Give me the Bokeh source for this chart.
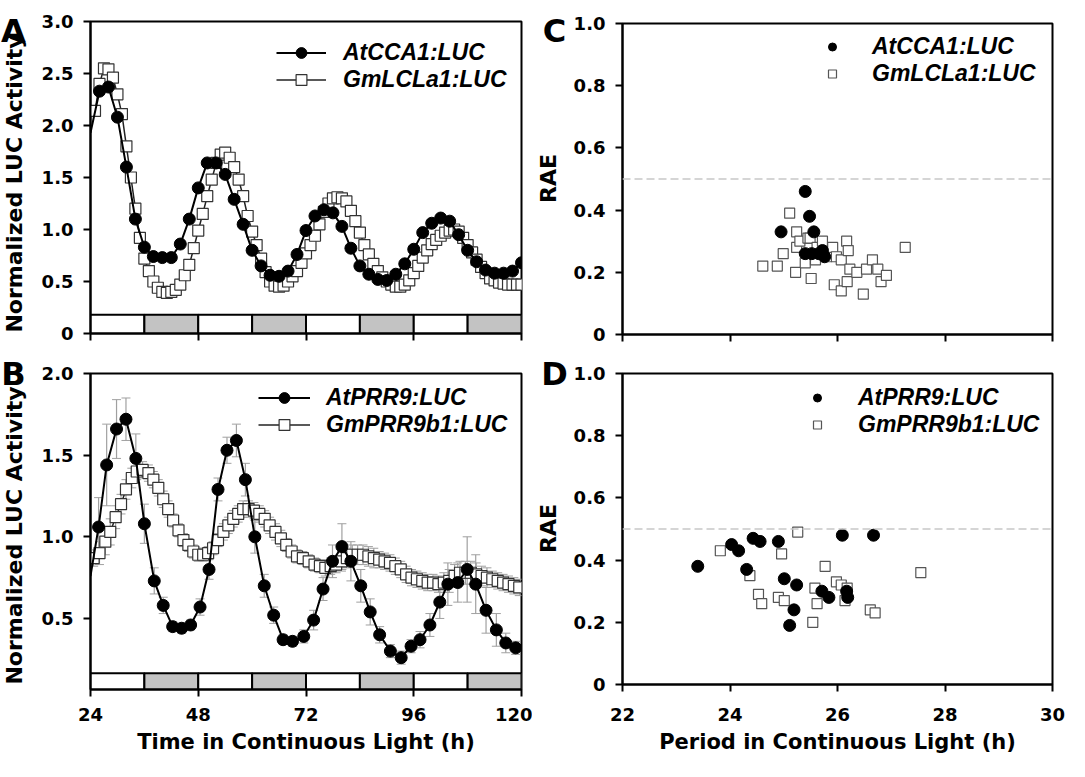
import math
from bokeh.plotting import figure
from bokeh.models import (Range1d, FixedTicker, Legend, LegendItem, Whisker,
                          ColumnDataSource, Span, Label, CustomJSTickFormatter)
from bokeh.layouts import row, column
from bokeh.embed import file_html
from bokeh.resources import INLINE

FONT = "DejaVu Sans"
LEG_FONT = "Liberation Sans"

# ---------------- data ----------------
time_ticks = [24, 48, 72, 96, 120]
period_ticks = [22, 24, 26, 28, 30]
lucA_ticks = [0, 0.5, 1.0, 1.5, 2.0, 2.5, 3.0]
lucB_ticks = [0.5, 1.0, 1.5, 2.0]
rae_ticks = [0, 0.2, 0.4, 0.6, 0.8, 1.0]
rae_cutoff = 0.5

strip_left = [24, 36, 48, 60, 72, 84, 96, 108]
strip_right = [36, 48, 60, 72, 84, 96, 108, 120]
strip_fill = ["white", "#c3c3c3", "white", "#c3c3c3", "white", "#c3c3c3", "white", "#c3c3c3"]

# Panel A
cca1_t = [24, 26, 28, 30, 32, 34, 36, 38, 40, 42, 44, 46, 48, 50, 52, 54, 56, 58, 60,
          62, 64, 66, 68, 70, 72, 74, 76, 78, 80, 82, 84, 86, 88, 90, 92, 94, 96, 98,
          100, 102, 104, 106, 108, 110, 112, 114, 116, 118, 120]
cca1_v = [1.93, 2.33, 2.37, 2.08, 1.60, 1.10, 0.83, 0.74, 0.73, 0.73, 0.86, 1.10, 1.40,
          1.64, 1.64, 1.53, 1.29, 1.05, 0.80, 0.65, 0.56, 0.55, 0.60, 0.76, 0.99, 1.13,
          1.19, 1.16, 1.03, 0.82, 0.65, 0.57, 0.52, 0.51, 0.57, 0.67, 0.81, 0.97, 1.06,
          1.11, 1.08, 0.95, 0.80, 0.69, 0.61, 0.58, 0.58, 0.60, 0.68]
lcla1_t = list(range(25, 121))
lcla1_v = [2.14, 2.40, 2.55, 2.54, 2.46, 2.30, 2.11, 1.80, 1.50, 1.20,
           0.92, 0.72, 0.60, 0.50, 0.44, 0.40, 0.39, 0.40, 0.42, 0.47,
           0.56, 0.66, 0.82, 0.99, 1.15, 1.32, 1.48, 1.64, 1.72, 1.74,
           1.69, 1.60, 1.48, 1.32, 1.13, 0.98, 0.85, 0.72, 0.59, 0.50,
           0.46, 0.45, 0.46, 0.50, 0.55, 0.60, 0.68, 0.77, 0.85, 0.94,
           1.05, 1.17, 1.25, 1.30, 1.31, 1.30, 1.27, 1.18, 1.08, 0.97,
           0.85, 0.76, 0.67, 0.60, 0.54, 0.50, 0.47, 0.45, 0.45, 0.47,
           0.51, 0.58, 0.65, 0.73, 0.80, 0.86, 0.90, 0.94, 0.97, 0.99,
           1.00, 0.98, 0.92, 0.85, 0.78, 0.71, 0.64, 0.58, 0.53, 0.51,
           0.49, 0.48, 0.47, 0.47, 0.47, 0.47]

# Panel B
prr9_t = [24.0, 25.8, 27.6, 29.8, 31.9, 34.1, 36.0, 38.2, 40.2, 42.3, 44.3, 46.3, 48.4,
          50.4, 52.4, 54.4, 56.5, 58.5, 60.6, 62.7, 64.8, 66.9, 69.0, 71.5, 73.7, 75.8,
          77.9, 80.0, 82.0, 84.2, 86.3, 88.4, 90.8, 93.2, 95.4, 97.4, 99.6, 101.8,
          103.6, 105.8, 107.9, 109.8, 112.1, 114.4, 116.5, 118.7]
prr9_v = [0.76, 1.06, 1.44, 1.66, 1.72, 1.48, 1.08, 0.73, 0.58, 0.45, 0.44, 0.46, 0.57,
          0.80, 1.29, 1.53, 1.59, 1.35, 1.00, 0.70, 0.52, 0.37, 0.36, 0.39, 0.49, 0.68,
          0.85, 0.94, 0.85, 0.70, 0.54, 0.40, 0.30, 0.26, 0.33, 0.37, 0.46, 0.60, 0.71,
          0.72, 0.80, 0.71, 0.55, 0.43, 0.35, 0.32]
prr9_err = [0, 0.18, 0.25, 0.18, 0.13, 0.15, 0.12, 0.08, 0.05, 0.03, 0.03, 0.03, 0.05,
            0.06, 0.07, 0.08, 0.10, 0.10, 0.10, 0.07, 0.05, 0.03, 0.03, 0.04, 0.06, 0.07,
            0.10, 0.14, 0.12, 0.10, 0.08, 0.05, 0.04, 0.04, 0.04, 0.05, 0.07, 0.10, 0.13,
            0.12, 0.20, 0.18, 0.14, 0.10, 0.06, 0.04]
gm9_t = [24.7, 26.0, 27.3, 28.4, 29.6, 30.8, 31.9, 33.2, 34.3, 35.6,
         36.9, 38.0, 39.1, 40.2, 41.3, 42.4, 43.6, 44.7, 45.8, 46.9,
         48.0, 49.1, 50.2, 51.3, 52.4, 53.6, 54.7, 55.8, 56.9, 58.0,
         59.2, 60.4, 61.6, 62.8, 63.9, 65.2, 66.4, 67.6, 68.8, 70.0,
         71.3, 72.6, 73.9, 75.1, 76.3, 77.5, 78.7, 79.9, 81.1, 82.3,
         83.5, 84.7, 85.9, 87.1, 88.3, 89.5, 90.7, 91.9, 93.1, 94.3,
         95.5, 96.7, 97.9, 99.1, 100.3, 101.5, 102.7, 103.9, 105.1, 106.3,
         107.5, 108.7, 109.9, 111.1, 112.3, 113.5, 114.7, 115.9, 117.1, 118.3,
         119.5]
gm9_v = [0.87, 0.90, 0.97, 1.03, 1.12, 1.20, 1.29, 1.36, 1.40, 1.41,
         1.39, 1.35, 1.30, 1.23, 1.17, 1.10, 1.04, 0.98, 0.95, 0.91,
         0.89, 0.89, 0.90, 0.93, 0.98, 1.03, 1.07, 1.11, 1.14, 1.17,
         1.17, 1.16, 1.14, 1.11, 1.07, 1.03, 0.99, 0.95, 0.91, 0.88,
         0.87, 0.85, 0.83, 0.82, 0.81, 0.82, 0.83, 0.85, 0.87, 0.89,
         0.89, 0.89, 0.88, 0.87, 0.86, 0.85, 0.84, 0.82, 0.80, 0.77,
         0.75, 0.74, 0.73, 0.72, 0.72, 0.71, 0.72, 0.73, 0.76, 0.78,
         0.78, 0.78, 0.77, 0.76, 0.75, 0.74, 0.73, 0.72, 0.71, 0.70,
         0.69]
gm9_err = [0.05, 0.07, 0.08, 0.08, 0.07, 0.06, 0.06, 0.06, 0.05, 0.05,
           0.05, 0.05, 0.05, 0.05, 0.05, 0.04, 0.04, 0.04, 0.04, 0.04,
           0.04, 0.04, 0.04, 0.04, 0.04, 0.05, 0.05, 0.05, 0.05, 0.05,
           0.05, 0.05, 0.05, 0.05, 0.05, 0.05, 0.05, 0.04, 0.04, 0.04,
           0.04, 0.04, 0.04, 0.04, 0.05, 0.05, 0.05, 0.06, 0.06, 0.06,
           0.06, 0.06, 0.06, 0.06, 0.05, 0.05, 0.05, 0.05, 0.05, 0.05,
           0.05, 0.05, 0.05, 0.05, 0.05, 0.05, 0.06, 0.07, 0.07, 0.07,
           0.07, 0.07, 0.07, 0.06, 0.06, 0.05, 0.05, 0.05, 0.05, 0.05,
           0.05]

# Panel C
c_cca1_period = [24.95, 25.40, 25.48, 25.56, 25.40, 25.52, 25.65, 25.72, 25.76]
c_cca1_rae = [0.33, 0.46, 0.38, 0.33, 0.26, 0.26, 0.26, 0.27, 0.25]
c_lcla1_period = [24.61, 24.88, 24.99, 25.11, 25.22, 25.24, 25.24, 25.30, 25.40, 25.45,
                  25.49, 25.51, 25.59, 25.62, 25.72, 25.80, 25.91, 25.94, 25.98, 26.07,
                  26.07, 26.17, 26.18, 26.20, 26.23, 26.36, 26.48, 26.54, 26.65, 26.75,
                  26.81, 26.91, 27.26]
c_lcla1_rae = [0.22, 0.22, 0.26, 0.39, 0.20, 0.33, 0.28, 0.30, 0.23, 0.31,
               0.31, 0.18, 0.24, 0.28, 0.30, 0.25, 0.28, 0.16, 0.25, 0.24,
               0.14, 0.30, 0.17, 0.27, 0.21, 0.20, 0.13, 0.21, 0.24, 0.21,
               0.17, 0.19, 0.28]

# Panel D
d_prr9_period = [23.40, 24.03, 24.16, 24.31, 24.43, 24.56, 24.90, 25.01, 25.24, 25.19,
                 25.11, 25.71, 25.84, 26.09, 26.17, 26.19, 26.67]
d_prr9_rae = [0.38, 0.45, 0.43, 0.37, 0.47, 0.46, 0.46, 0.34, 0.32, 0.24,
              0.19, 0.30, 0.28, 0.48, 0.30, 0.28, 0.48]
d_gm9_period = [23.82, 24.96, 24.37, 24.53, 24.59, 24.90, 25.01, 25.26, 25.58, 25.62,
                25.54, 25.77, 25.98, 26.07, 26.18, 26.14, 26.61, 26.70, 27.55]
d_gm9_rae = [0.43, 0.42, 0.35, 0.29, 0.26, 0.28, 0.27, 0.49, 0.31, 0.26,
             0.20, 0.38, 0.33, 0.32, 0.31, 0.27, 0.24, 0.23, 0.36]

# texts
letters = ["A", "B", "C", "D"]
luc_title = "Normalized LUC Activity"
rae_title = "RAE"


# ---------------- helpers ----------------
def base_fig(w, h, xr, yr, bl, br, bt, bb, show_x, lab_standoff=10, title_standoff=6):
    p = figure(width=w, height=h, x_range=Range1d(*xr), y_range=Range1d(*yr),
               output_backend="svg", toolbar_location=None,
               min_border_left=bl, min_border_right=br,
               min_border_top=bt, min_border_bottom=bb)
    p.xgrid.visible = False
    p.ygrid.visible = False
    p.outline_line_color = "black"
    p.outline_line_width = 2
    p.outline_line_alpha = 1
    p.background_fill_color = "white"
    p.border_fill_color = "white"
    for ax in (p.xaxis[0], p.yaxis[0]):
        ax.axis_line_width = 2
        ax.axis_line_color = "black"
        ax.major_tick_line_width = 2
        ax.major_tick_line_color = "black"
        ax.major_tick_out = 7
        ax.major_tick_in = 0
        ax.minor_tick_out = 0
        ax.minor_tick_in = 0
        ax.major_label_text_font = FONT
        ax.major_label_text_font_style = "bold"
        ax.major_label_text_font_size = "18px"
        ax.major_label_text_color = "black"
        ax.axis_label_text_font = FONT
        ax.axis_label_text_font_style = "bold"
        ax.axis_label_text_font_size = "21px"
        ax.axis_label_text_color = "black"
    p.yaxis[0].major_label_standoff = 10
    p.yaxis[0].formatter = CustomJSTickFormatter(
        code="return tick == 0 ? '0' : tick.toFixed(1);")
    if show_x:
        p.xaxis[0].major_label_standoff = lab_standoff
        p.xaxis[0].axis_label_standoff = title_standoff
        p.xaxis[0].formatter = CustomJSTickFormatter(code="return tick.toFixed(0);")
    else:
        p.xaxis[0].major_label_standoff = 0
        p.xaxis[0].major_label_text_font_size = "1px"
        p.xaxis[0].formatter = CustomJSTickFormatter(code="return '';")
    return p


def add_strip(p, bottom, top):
    p.quad(left=strip_left, right=strip_right,
           bottom=[bottom] * len(strip_left), top=[top] * len(strip_left),
           fill_color=strip_fill, line_color="black", line_width=2)


def add_whiskers(p, xs, ys, errs):
    src = ColumnDataSource(dict(x=xs,
                                lower=[y - e for y, e in zip(ys, errs)],
                                upper=[y + e for y, e in zip(ys, errs)]))
    w = Whisker(source=src, base="x", lower="lower", upper="upper",
                line_color="#a0a0a0", line_width=1.2)
    w.upper_head.line_color = "#a0a0a0"
    w.lower_head.line_color = "#a0a0a0"
    w.upper_head.size = 9
    w.lower_head.size = 9
    p.add_layout(w)


def side_fig(w, h):
    # narrow strip holding the panel letters and the rotated axis titles
    f = figure(width=w, height=h, x_range=Range1d(0, w), y_range=Range1d(0, h),
               output_backend="svg", toolbar_location=None, title=None,
               x_axis_location=None, y_axis_location=None,
               min_border_left=0, min_border_right=0, min_border_top=0, min_border_bottom=0)
    f.grid.visible = False
    f.outline_line_color = None
    f.background_fill_color = "white"
    f.border_fill_color = "white"
    return f


def add_letter(f, text, x, y):
    f.add_layout(Label(x=x, y=y, text=text, text_font=FONT, text_font_style="bold",
                       text_font_size="32px", text_align="center",
                       text_baseline="alphabetic", text_color="black"))


def add_vtitle(f, text, x, y):
    f.add_layout(Label(x=x, y=y, text=text, angle=math.pi / 2, text_font=FONT,
                       text_font_style="bold", text_font_size="22px",
                       text_align="center", text_baseline="middle", text_color="black"))


def make_legend(items, x, y, gw, standoff):
    return Legend(items=items, location=(x, y), border_line_color=None,
                  background_fill_alpha=0, padding=0, margin=0, spacing=0,
                  glyph_width=gw, glyph_height=27, label_height=27,
                  label_standoff=standoff, label_text_font=LEG_FONT,
                  label_text_font_style="bold italic", label_text_font_size="23px",
                  label_text_color="black")


# page geometry (pixels inside the 8px body margin)
SIDE_L, MAIN_L, SIDE_R, MAIN_R = 38, 494, 37, 500
TOP_H, BOT_H = 349, 412
FULL_H = TOP_H + BOT_H

# ---------------- Panel A ----------------
pA = base_fig(MAIN_L, TOP_H, (24, 120), (0, 3.0), 51, 11, 21, 16, False)
pA.xaxis[0].ticker = FixedTicker(ticks=time_ticks)
pA.yaxis[0].ticker = FixedTicker(ticks=lucA_ticks)
add_strip(pA, 0, 0.18)
lA2 = pA.line(lcla1_t, lcla1_v, line_color="#222222", line_width=1.5)
sA2 = pA.scatter(lcla1_t, lcla1_v, marker="square", size=11, fill_color="white",
                 line_color="#333333", line_width=1.2)
lA1 = pA.line(cca1_t, cca1_v, line_color="black", line_width=2)
sA1 = pA.scatter(cca1_t[1:], cca1_v[1:], marker="circle", size=12, fill_color="black",
                 line_color="black")
pA.add_layout(make_legend([LegendItem(label="AtCCA1:LUC", renderers=[lA1, sA1]),
                           LegendItem(label="GmLCLa1:LUC", renderers=[lA2, sA2])],
                          186, 240, 50, 17))

# ---------------- Panel B ----------------
pB = base_fig(MAIN_L, BOT_H, (24, 120), (0.065, 2.0), 51, 11, 24, 72, True, 11, 6)
pB.xaxis[0].ticker = FixedTicker(ticks=time_ticks)
pB.xaxis[0].axis_label = "Time in Continuous Light (h)"
pB.yaxis[0].ticker = FixedTicker(ticks=lucB_ticks)
add_strip(pB, 0.065, 0.165)
add_whiskers(pB, gm9_t, gm9_v, gm9_err)
add_whiskers(pB, prr9_t[1:], prr9_v[1:], prr9_err[1:])
lB2 = pB.line(gm9_t, gm9_v, line_color="#222222", line_width=1.5)
sB2 = pB.scatter(gm9_t, gm9_v, marker="square", size=11, fill_color="white",
                 line_color="#333333", line_width=1.2)
lB1 = pB.line(prr9_t, prr9_v, line_color="black", line_width=2)
sB1 = pB.scatter(prr9_t[1:], prr9_v[1:], marker="circle", size=12, fill_color="black",
                 line_color="black")
pB.add_layout(make_legend([LegendItem(label="AtPRR9:LUC", renderers=[lB1, sB1]),
                           LegendItem(label="GmPRR9b1:LUC", renderers=[lB2, sB2])],
                          168, 251, 52, 16))

# ---------------- Panel C ----------------
pC = base_fig(MAIN_R, TOP_H, (22, 30), (0, 1.0), 53, 17, 23, 15, False)
pC.xaxis[0].ticker = FixedTicker(ticks=period_ticks)
pC.yaxis[0].ticker = FixedTicker(ticks=rae_ticks)
pC.add_layout(Span(location=rae_cutoff, dimension="width", line_color="#c8c8c8",
                   line_width=1.5, line_dash="8 4"))
sC2 = pC.scatter(c_lcla1_period, c_lcla1_rae, marker="square", size=10,
                 fill_color="white", line_color="#555555", line_width=1.2)
sC1 = pC.scatter(c_cca1_period, c_cca1_rae, marker="circle", size=12,
                 fill_color="black", line_color="black")
pC.add_layout(make_legend([LegendItem(label="AtCCA1:LUC", renderers=[sC1]),
                           LegendItem(label="GmLCLa1:LUC", renderers=[sC2])],
                          200, 247, 20, 30))

# ---------------- Panel D ----------------
pD = base_fig(MAIN_R, BOT_H, (22, 30), (0, 1.0), 53, 17, 24, 77, True, 16, 6)
pD.xaxis[0].ticker = FixedTicker(ticks=period_ticks)
pD.xaxis[0].axis_label = "Period in Continuous Light (h)"
pD.yaxis[0].ticker = FixedTicker(ticks=rae_ticks)
pD.add_layout(Span(location=rae_cutoff, dimension="width", line_color="#c8c8c8",
                   line_width=1.5, line_dash="8 4"))
sD2 = pD.scatter(d_gm9_period, d_gm9_rae, marker="square", size=10,
                 fill_color="white", line_color="#555555", line_width=1.2)
sD1 = pD.scatter(d_prr9_period, d_prr9_rae, marker="circle", size=12,
                 fill_color="black", line_color="black")
pD.add_layout(make_legend([LegendItem(label="AtPRR9:LUC", renderers=[sD1]),
                           LegendItem(label="GmPRR9b1:LUC", renderers=[sD2])],
                          185, 246, 20, 31))

# ---------------- side strips: letters + rotated axis titles ----------------
# side-strip coordinates are pixels measured from the strip's bottom-left corner
sL = side_fig(SIDE_L, FULL_H)
add_letter(sL, letters[0], 13, FULL_H - 30)
add_letter(sL, letters[1], 13, FULL_H - 373)
add_vtitle(sL, luc_title, 14, FULL_H - 183)
add_vtitle(sL, luc_title, 14, FULL_H - 535)

sR = side_fig(SIDE_R, FULL_H)
add_letter(sR, letters[2], 22, FULL_H - 30)
add_letter(sR, letters[3], 22, FULL_H - 373)
add_vtitle(sR, rae_title, 16, FULL_H - 178)
add_vtitle(sR, rae_title, 16, FULL_H - 528)

layout = row(sL, column(pA, pB, spacing=0), sR, column(pC, pD, spacing=0), spacing=0)

open("out.html", "w").write(file_html(layout, INLINE))
